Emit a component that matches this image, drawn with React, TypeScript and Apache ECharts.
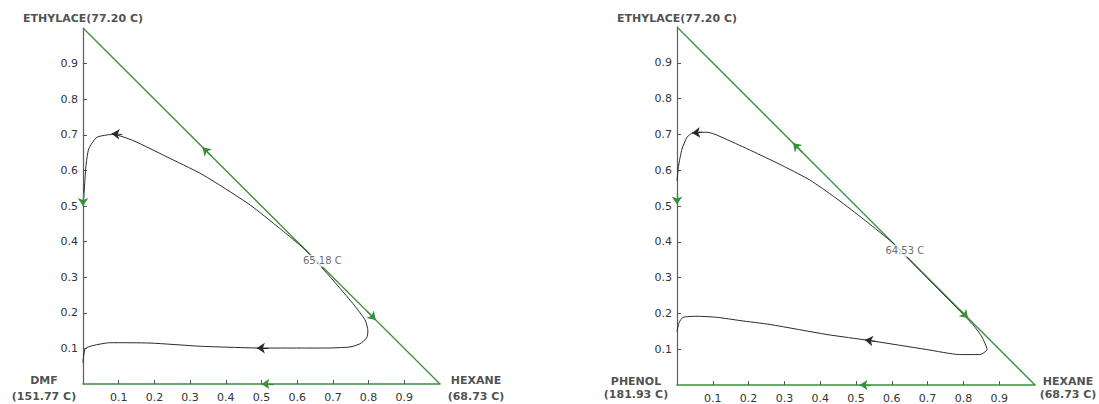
import React, { useEffect, useRef } from "react";
import * as echarts from "echarts";

// ---------- data ----------
const tickValues = [0.1, 0.2, 0.3, 0.4, 0.5, 0.6, 0.7, 0.8, 0.9];
const triangleEdge = [[0, 1], [1, 0]];

// Left diagram: ETHYLACE / DMF / HEXANE
const leftVertexLabels = ["ETHYLACE(77.20 C)", "DMF\n(151.77 C)", "HEXANE\n(68.73 C)"];
const leftAzeotrope = [0.62, 0.38];
const leftAzeotropeLabel = "65.18 C";
const leftUpperCurve = [
  [0.62, 0.38], [0.55, 0.438], [0.468, 0.503], [0.384, 0.558], [0.328, 0.592],
  [0.235, 0.638], [0.14, 0.684], [0.084, 0.701], [0.039, 0.693], [0.016, 0.66],
  [0.008, 0.61], [0.004, 0.55], [0.0, 0.5],
];
const leftLowerCurve = [
  [0.62, 0.38], [0.669, 0.327], [0.70, 0.292], [0.756, 0.226], [0.79, 0.18],
  [0.798, 0.15], [0.795, 0.13], [0.776, 0.113], [0.748, 0.104], [0.68, 0.101],
  [0.608, 0.101], [0.50, 0.101], [0.384, 0.104], [0.328, 0.106], [0.188, 0.115],
  [0.076, 0.116], [0.028, 0.108], [0.006, 0.099], [0.0, 0.06],
];
const leftCurveArrows = [
  [[0.11, 0.701], [0.08, 0.703]],
  [[0.52, 0.101], [0.487, 0.101]],
];
const leftEdgeArrows = [
  [[0, 0.535], [0, 0.5]],
  [[0.36, 0.64], [0.335, 0.665]],
  [[0.795, 0.205], [0.82, 0.18]],
  [[0.535, 0], [0.5, 0]],
];

// Right diagram: ETHYLACE / PHENOL / HEXANE
const rightVertexLabels = ["ETHYLACE(77.20 C)", "PHENOL\n(181.93 C)", "HEXANE\n(68.73 C)"];
const rightAzeotrope = [0.6, 0.4];
const rightAzeotropeLabel = "64.53 C";
const rightUpperCurve = [
  [0.6, 0.4], [0.511, 0.471], [0.44, 0.525], [0.372, 0.572], [0.3, 0.61],
  [0.232, 0.643], [0.156, 0.678], [0.084, 0.706], [0.045, 0.705], [0.028, 0.692],
  [0.014, 0.659], [0.004, 0.61], [0.0, 0.57],
];
const rightLowerCurve = [
  [0.6, 0.4], [0.70, 0.298], [0.78, 0.217], [0.827, 0.168], [0.852, 0.134],
  [0.866, 0.099], [0.846, 0.085], [0.79, 0.085], [0.698, 0.099], [0.539, 0.124],
  [0.419, 0.141], [0.26, 0.169], [0.176, 0.18], [0.112, 0.189], [0.056, 0.192],
  [0.017, 0.189], [0.006, 0.175], [0.0, 0.15],
];
const rightCurveArrows = [
  [[0.07, 0.706], [0.042, 0.704]],
  [[0.56, 0.121], [0.525, 0.126]],
];
const rightEdgeArrows = [
  [[0, 0.535], [0, 0.504]],
  [[0.35, 0.65], [0.324, 0.676]],
  [[0.79, 0.21], [0.813, 0.187]],
  [[0.54, 0], [0.51, 0]],
];

// ---------- styling / layout ----------
const FONT = "DejaVu Sans";
const GREEN = "#3a8f3a";
const CURVE = "#2a2a2a";

type Diagram = {
  vertexLabels: string[];
  azeotrope: number[];
  azeotropeLabel: string;
  upper: number[][];
  lower: number[][];
  curveArrows: number[][][];
  edgeArrows: number[][][];
};

type Layout = {
  grid: { left: number; top: number; width: number; height: number };
  topOffset: number[];
  leftOffset: number[];
  rightOffset: number[];
  lineHeight: number;
  azeoOffset: number[];
};

const diagrams: Diagram[] = [
  {
    vertexLabels: leftVertexLabels,
    azeotrope: leftAzeotrope,
    azeotropeLabel: leftAzeotropeLabel,
    upper: leftUpperCurve,
    lower: leftLowerCurve,
    curveArrows: leftCurveArrows,
    edgeArrows: leftEdgeArrows,
  },
  {
    vertexLabels: rightVertexLabels,
    azeotrope: rightAzeotrope,
    azeotropeLabel: rightAzeotropeLabel,
    upper: rightUpperCurve,
    lower: rightLowerCurve,
    curveArrows: rightCurveArrows,
    edgeArrows: rightEdgeArrows,
  },
];

const layouts: Layout[] = [
  {
    grid: { left: 83, top: 28, width: 357, height: 356 },
    topOffset: [0, -10],
    leftOffset: [-39, 4],
    rightOffset: [36, 4],
    lineHeight: 16,
    azeoOffset: [18, 12],
  },
  {
    grid: { left: 677, top: 27, width: 358, height: 359 },
    topOffset: [0, -9],
    leftOffset: [-41, 3],
    rightOffset: [33, 3],
    lineHeight: 13,
    azeoOffset: [13, 9],
  },
];

function buildSeries(i: number, d: Diagram, L: Layout) {
  const axes = { xAxisIndex: i, yAxisIndex: i };
  const boldLabel = {
    show: true,
    position: "inside",
    fontFamily: FONT,
    fontWeight: "bold",
    fontSize: 11,
    color: "#222",
    align: "center",
    verticalAlign: "middle",
    lineHeight: L.lineHeight,
  };
  return [
    {
      type: "line",
      ...axes,
      data: triangleEdge,
      symbol: "none",
      silent: true,
      clip: false,
      lineStyle: { color: GREEN, width: 1.3 },
      z: 2,
    },
    {
      type: "line",
      ...axes,
      data: d.upper,
      symbol: "none",
      smooth: 0.2,
      silent: true,
      clip: false,
      lineStyle: { color: CURVE, width: 1 },
      z: 3,
    },
    {
      type: "line",
      ...axes,
      data: d.lower,
      symbol: "none",
      smooth: 0.2,
      silent: true,
      clip: false,
      lineStyle: { color: CURVE, width: 1 },
      z: 3,
    },
    {
      type: "lines",
      coordinateSystem: "cartesian2d",
      ...axes,
      symbol: ["none", "arrow"],
      symbolSize: 8,
      silent: true,
      clip: false,
      lineStyle: { color: CURVE, width: 1, opacity: 1 },
      data: d.curveArrows.map((c) => ({ coords: c })),
      z: 4,
    },
    {
      type: "lines",
      coordinateSystem: "cartesian2d",
      ...axes,
      symbol: ["none", "arrow"],
      symbolSize: 8,
      silent: true,
      clip: false,
      lineStyle: { color: GREEN, width: 1.3, opacity: 1 },
      data: d.edgeArrows.map((c) => ({ coords: c })),
      z: 4,
    },
    {
      type: "scatter",
      ...axes,
      symbolSize: 1,
      silent: true,
      clip: false,
      itemStyle: { color: "rgba(0,0,0,0)" },
      z: 6,
      data: [
        {
          value: d.azeotrope,
          label: {
            show: true,
            position: "inside",
            formatter: d.azeotropeLabel,
            offset: L.azeoOffset,
            fontFamily: FONT,
            fontSize: 10,
            color: "#444",
            backgroundColor: "#fff",
            padding: [1, 1],
            align: "center",
            verticalAlign: "middle",
          },
        },
      ],
    },
    {
      type: "scatter",
      ...axes,
      symbolSize: 1,
      silent: true,
      clip: false,
      itemStyle: { color: "rgba(0,0,0,0)" },
      z: 6,
      data: [
        { value: [0, 1], label: { ...boldLabel, formatter: d.vertexLabels[0], offset: L.topOffset } },
        { value: [0, 0], label: { ...boldLabel, formatter: d.vertexLabels[1], offset: L.leftOffset } },
        { value: [1, 0], label: { ...boldLabel, formatter: d.vertexLabels[2], offset: L.rightOffset } },
      ],
    },
  ];
}

function axisBase(i: number, isX: boolean) {
  return {
    type: "value",
    gridIndex: i,
    min: 0,
    max: 1,
    splitLine: { show: false },
    axisLine: {
      show: true,
      onZero: false,
      lineStyle: { color: isX ? GREEN : "#3f6e55", width: isX ? 1.6 : 1.2 },
    },
    axisTick: {
      show: true,
      inside: true,
      length: 4,
      customValues: tickValues,
      lineStyle: { color: "#555" },
    },
    axisLabel: {
      show: true,
      customValues: tickValues,
      fontFamily: FONT,
      fontSize: 11,
      color: "#333",
      margin: isX ? 8 : 5,
      formatter: (v: number) => v.toFixed(1),
    },
  };
}

export default function App() {
  const ref = useRef<HTMLDivElement>(null);

  useEffect(() => {
    if (!ref.current) return;
    const chart = echarts.init(ref.current, undefined, { renderer: "svg" });
    const option = {
      animation: false,
      backgroundColor: "#fff",
      grid: layouts.map((L) => ({ ...L.grid, containLabel: false })),
      xAxis: layouts.map((_, i) => axisBase(i, true)),
      yAxis: layouts.map((_, i) => axisBase(i, false)),
      series: diagrams.flatMap((d, i) => buildSeries(i, d, layouts[i])),
    };
    chart.setOption(option as any);
    return () => chart.dispose();
  }, []);

  return (
    <div
      ref={ref}
      style={{ position: "fixed", left: 0, top: 0, width: 1099, height: 404, background: "#fff" }}
    />
  );
}
